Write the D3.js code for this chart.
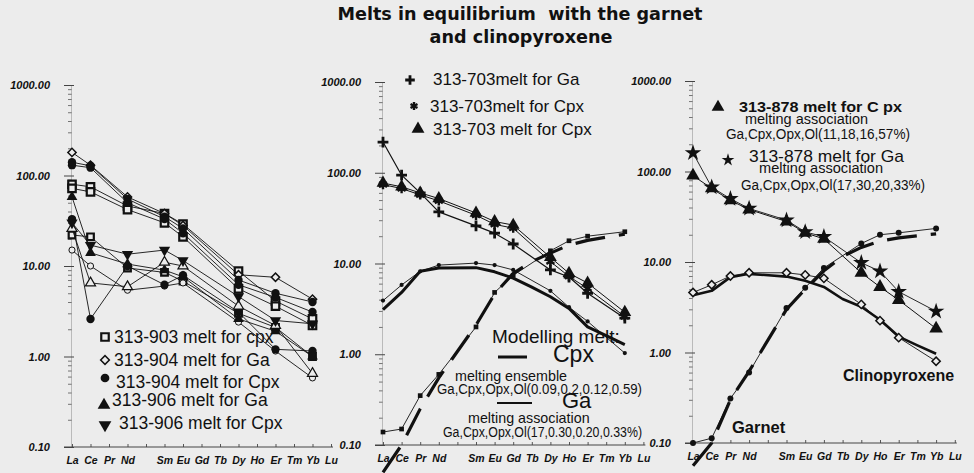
<!DOCTYPE html>
<html>
<head>
<meta charset="utf-8">
<script src="https://cdn.jsdelivr.net/npm/d3@7"></script>
<style>
  body { margin: 0; background: #ececec; }
  svg { display: block; }
</style>
</head>
<body>
<svg id="chart" width="974" height="473"></svg>
<script>
// REE order on the x axis (Pm is a gap)
const REE = ["La", "Ce", "Pr", "Nd", "Pm", "Sm", "Eu", "Gd", "Tb", "Dy", "Ho", "Er", "Tm", "Yb", "Lu"];
const axisLabels = ["La", "Ce", "Pr", "Nd", "", "Sm", "Eu", "Gd", "Tb", "Dy", "Ho", "Er", "Tm", "Yb", "Lu"];
const yTickValues = [0.1, 1, 10, 100, 1000];

// panel 1 - measured melts
const p1Elements = ["La", "Ce", "Nd", "Sm", "Eu", "Dy", "Er", "Yb"];
const melt903CpxA = [80, 75, 46, 38, 29, 8.8, 4.1, 2.6];
const melt903CpxB = [72, 66, 42, 30, 21, 5.6, 3.6, 2.2];
const melt903CpxC = [22, 21, 9.5, 8.5, 6.8, 3.0, 2.1, 1.0];
const melt904GaA = [180, 130, 58, 38, 28, 8.0, 7.5, 4.3];
const melt904GaB = [15, 10, 5.4, 6.0, 6.5, 2.4, 1.15, 0.58];
const melt904CpxA = [140, 128, 55, 35, 26, 7.0, 5.0, 4.0];
const melt904CpxB = [130, 122, 50, 33, 23, 6.2, 4.5, 3.1];
const melt904CpxC = [33, 2.6, 10, 6.2, 7.9, 3.1, 1.2, 1.15];
const melt906GaA = [58, 14, 10.5, 9, 7.6, 2.6, 1.9, 1.0];
const melt906GaB = [26, 6.5, 5.9, 11, 10, 3.6, 2.2, 0.65];
const melt906Cpx = [30, 17, 13.5, 15, 11.5, 4.6, 2.5, 2.3];

// panel 2 - 313-703 melts and modelled melts
const p2Elements = ["La", "Ce", "Pr", "Nd", "Sm", "Eu", "Gd", "Dy", "Ho", "Er", "Yb"];
const melt703Ga = [218, 94, 60, 37, 26, 21.6, 16.4, 8.5, 7.1, 4.7, 2.5];
const melt703CpxStar = [74, 67, 57, 49, 34, 27, 24.5, 10.5, 7.2, 5.3, 2.6];
const melt703CpxTri = [77, 70, 60, 52, 36, 29, 26.5, 11.7, 7.8, 6.1, 2.9];
const p2CpxCalc = [3.9, 5.8, 8.2, 9.6, 10.1, 9.6, 8.5, 5.0, 3.3, 2.3, 1.03];
const p2GaCalc = [0.139, 0.15, 0.35, 0.6, 2.0, 4.8, 7.4, 13.8, 17.8, 20, 22.4];
const modelElements = ["La", "Ce", "Pr", "Nd", "Sm", "Eu", "Gd", "Tb", "Dy", "Ho", "Er", "Tm", "Yb"];
const p2CpxModel = [3.1, 4.8, 8.2, 8.9, 9.0, 8.1, 6.9, 5.5, 4.3, 3.2, 2.0, 1.6, 1.28];
const p2GaModel = [0.05, 0.1, 0.25, 0.55, 2.1, 4.6, 7.8, 10.5, 13, 16, 18, 19.5, 21];

// panel 3 - 313-878 melts and modelled melts
const p3Elements = ["La", "Ce", "Pr", "Nd", "Sm", "Eu", "Gd", "Dy", "Ho", "Er", "Yb"];
const melt878Ga = [160, 67, 50, 39, 29, 21.5, 19, 9.8, 7.9, 4.7, 2.85];
const melt878Cpx = [90, 65, 48, 38, 28, 21, 18, 7.6, 5.3, 3.8, 1.84];
const p3CpxCalc = [4.6, 5.6, 7.0, 7.6, 7.6, 7.2, 6.6, 3.4, 2.25, 1.46, 0.8];
const p3GaCalc = [0.1, 0.113, 0.31, 0.6, 3.1, 5.2, 8.6, 16, 20, 21, 23.5];
const p3CpxModel = [4.3, 4.8, 6.8, 7.4, 6.9, 6.2, 5.3, 3.9, 3.2, 2.3, 1.5, 1.2, 0.97];
const p3GaModel = [0.056, 0.1, 0.3, 0.62, 3.0, 5.0, 8.0, 11.5, 14.5, 17, 18.5, 19.5, 20.5];

const INK = "#111";
const BG = "#ececec";
const SANS = "Liberation Sans, Arial, sans-serif";
const svg = d3.select("#chart");

const panels = [
  { x0: 72, step: 18.5, yTop: 85, yBot: 447 },
  { x0: 383, step: 18.6, yTop: 82, yBot: 445 },
  { x0: 693, step: 18.7, yTop: 81, yBot: 443 }
];

function scalesFor(p) {
  const x = d3.scaleLinear().domain([0, REE.length - 1]).range([p.x0, p.x0 + p.step * (REE.length - 1)]);
  const y = d3.scaleLog().domain([0.1, 1000]).range([p.yBot, p.yTop]);
  return { x, y };
}

function drawAxes(g, s) {
  const ax = s.x(0) - 1;
  const minor = [];
  for (let e = -1; e < 3; e++) for (let m = 2; m <= 9; m++) minor.push(m * Math.pow(10, e));

  g.append("g")
    .attr("transform", `translate(${ax},0)`)
    .call(d3.axisLeft(s.y).tickValues(minor).tickFormat("").tickSizeInner(3).tickSizeOuter(0))
    .call((a) => a.select(".domain").remove())
    .call((a) => a.selectAll(".tick line").attr("x1", 1).attr("stroke", "#555").attr("stroke-width", 0.8));

  g.append("g")
    .attr("transform", `translate(${ax},0)`)
    .call(d3.axisLeft(s.y).tickValues(yTickValues).tickFormat(d3.format(".2f")).tickSizeInner(7).tickSizeOuter(0).tickPadding(14))
    .attr("font-family", SANS)
    .attr("font-size", 11)
    .call((a) => a.select(".domain").attr("stroke", "#999").attr("stroke-width", 0.6))
    .call((a) => a.selectAll(".tick line").attr("x1", 3).attr("stroke", "#444"))
    .call((a) => a.selectAll(".tick text").attr("font-weight", "bold").attr("font-style", "italic").attr("fill", INK));

  const xg = g.append("g")
    .attr("transform", `translate(0,${s.y(0.1)})`)
    .call(d3.axisBottom(s.x).tickValues(d3.range(REE.length)).tickFormat((i) => axisLabels[i]).tickSizeInner(-3).tickSizeOuter(0).tickPadding(10))
    .attr("font-family", SANS)
    .attr("font-size", 10.5)
    .call((a) => a.select(".domain").remove())
    .call((a) => a.selectAll(".tick line").attr("stroke", "#555"))
    .call((a) => a.selectAll(".tick text").attr("font-weight", "bold").attr("font-style", "italic").attr("fill", INK));
  xg.append("line")
    .attr("x1", ax - 7).attr("x2", s.x(REE.length - 1) + 2)
    .attr("stroke", "#444").attr("stroke-width", 1);
}

function symbolPath(type, size) {
  return d3.symbol().type(type).size(size)();
}

function drawMarker(g, kind, cx, cy, size) {
  const t = `translate(${cx},${cy})`;
  switch (kind) {
    case "square":
      g.append("path").attr("d", symbolPath(d3.symbolSquare, size)).attr("transform", t)
        .attr("fill", BG).attr("stroke", INK).attr("stroke-width", 2.2);
      break;
    case "diamond":
      g.append("path").attr("d", symbolPath(d3.symbolSquare, size)).attr("transform", t + " rotate(45)")
        .attr("fill", BG).attr("stroke", INK).attr("stroke-width", 1.5);
      break;
    case "circle":
      g.append("path").attr("d", symbolPath(d3.symbolCircle, size)).attr("transform", t).attr("fill", INK);
      break;
    case "circleOpen":
      g.append("path").attr("d", symbolPath(d3.symbolCircle, size)).attr("transform", t)
        .attr("fill", BG).attr("stroke", INK).attr("stroke-width", 1);
      break;
    case "triangle":
      g.append("path").attr("d", symbolPath(d3.symbolTriangle, size)).attr("transform", t).attr("fill", INK);
      break;
    case "triangleOpen":
      g.append("path").attr("d", symbolPath(d3.symbolTriangle, size)).attr("transform", t)
        .attr("fill", BG).attr("stroke", INK).attr("stroke-width", 1.2);
      break;
    case "triangleDown":
      g.append("path").attr("d", symbolPath(d3.symbolTriangle, size)).attr("transform", t + " rotate(180)").attr("fill", INK);
      break;
    case "plus":
      g.append("path").attr("d", symbolPath(d3.symbolPlus, size)).attr("transform", t)
        .attr("fill", "none").attr("stroke", INK).attr("stroke-width", 2.8);
      break;
    case "asterisk":
      g.append("path").attr("d", symbolPath(d3.symbolAsterisk, size)).attr("transform", t)
        .attr("fill", "none").attr("stroke", INK).attr("stroke-width", 2.4);
      g.append("path").attr("d", symbolPath(d3.symbolSquare, size / 5)).attr("transform", t).attr("fill", INK);
      break;
    case "star":
      g.append("path").attr("d", symbolPath(d3.symbolStar, size)).attr("transform", t).attr("fill", INK);
      break;
    case "smallSquare":
      g.append("path").attr("d", symbolPath(d3.symbolSquare, size)).attr("transform", t).attr("fill", INK);
      break;
  }
}

function drawSeries(g, s, series) {
  const pts = series.elements.map((el, i) => ({ i: REE.indexOf(el), v: series.values[i] }));
  const line = d3.line().x((d) => s.x(d.i)).y((d) => s.y(d.v));
  g.append("path")
    .datum(pts)
    .attr("d", line)
    .attr("fill", "none")
    .attr("stroke", INK)
    .attr("stroke-width", series.width || 1)
    .attr("stroke-dasharray", series.dash || null)
    .attr("stroke-linejoin", "round");
  if (series.marker) {
    pts.forEach((d) => drawMarker(g, series.marker, s.x(d.i), s.y(d.v), series.size));
  }
}

function addText(g, str, x, y, size, opts = {}) {
  const t = g.append("text")
    .attr("x", x).attr("y", y)
    .attr("font-family", opts.family || SANS)
    .attr("font-size", size)
    .attr("font-weight", opts.bold ? "bold" : null)
    .attr("text-anchor", opts.anchor || "start")
    .attr("fill", INK)
    .text(str);
  if (opts.width) t.attr("textLength", opts.width).attr("lengthAdjust", "spacingAndGlyphs");
  return t;
}

// ---- title ----
const title = svg.append("g");
addText(title, "Melts in equilibrium\u00a0 with the garnet", 520, 20, 17.6, { bold: true, anchor: "middle", family: "DejaVu Sans, Verdana, sans-serif" });
addText(title, "and clinopyroxene", 521, 43, 17.6, { bold: true, anchor: "middle", family: "DejaVu Sans, Verdana, sans-serif" });

// ---- panel 1 ----
{
  const s = scalesFor(panels[0]);
  const g = svg.append("g");
  drawAxes(g, s);
  const lines = [
    { values: melt903CpxA, marker: "square", size: 56 },
    { values: melt903CpxB, marker: "square", size: 56 },
    { values: melt903CpxC, marker: "square", size: 44 },
    { values: melt904GaA, marker: "diamond", size: 34 },
    { values: melt904GaB, marker: "circleOpen", size: 30 },
    { values: melt904CpxA, marker: "circle", size: 55 },
    { values: melt904CpxB, marker: "circle", size: 55 },
    { values: melt904CpxC, marker: "circle", size: 55 },
    { values: melt906GaA, marker: "triangle", size: 50 },
    { values: melt906GaB, marker: "triangleOpen", size: 44 },
    { values: melt906Cpx, marker: "triangleDown", size: 55 }
  ];
  lines.forEach((l) => drawSeries(g, s, { elements: p1Elements, width: 0.9, ...l }));

  const leg = svg.append("g");
  const items = [
    { label: "313-903 melt for cpx", marker: "square", size: 56, mx: 105, my: 337, tx: 114, ty: 343 },
    { label: "313-904 melt for Ga", marker: "diamond", size: 38, mx: 105, my: 360, tx: 114, ty: 366 },
    { label: "313-904 melt for Cpx", marker: "circle", size: 60, mx: 105, my: 378, tx: 116, ty: 388 },
    { label: "313-906 melt for Ga", marker: "triangle", size: 70, mx: 104, my: 405, tx: 112, ty: 406 },
    { label: "313-906 melt for Cpx", marker: "triangleDown", size: 70, mx: 105, my: 425, tx: 119, ty: 429 }
  ];
  items.forEach((it) => {
    drawMarker(leg, it.marker, it.mx, it.my, it.size);
    addText(leg, it.label, it.tx, it.ty, 17.5);
  });
}

// ---- panel 2 ----
{
  const s = scalesFor(panels[1]);
  const g = svg.append("g");
  drawAxes(g, s);
  drawSeries(g, s, { elements: modelElements, values: p2GaModel, width: 3.2, dash: "30,14" });
  drawSeries(g, s, { elements: p2Elements, values: p2GaCalc, width: 0.9, marker: "smallSquare", size: 22 });
  drawSeries(g, s, { elements: modelElements, values: p2CpxModel, width: 3 });
  drawSeries(g, s, { elements: p2Elements, values: p2CpxCalc, width: 0.9, marker: "circle", size: 14 });
  drawSeries(g, s, { elements: p2Elements, values: melt703CpxStar, width: 1, marker: "asterisk", size: 60 });
  drawSeries(g, s, { elements: p2Elements, values: melt703CpxTri, width: 1, marker: "triangle", size: 72 });
  drawSeries(g, s, { elements: p2Elements, values: melt703Ga, width: 1.2, marker: "plus", size: 40 });

  const leg = svg.append("g");
  drawMarker(leg, "plus", 410, 80, 32);
  addText(leg, "313-703melt for Ga", 433, 85, 17);
  drawMarker(leg, "asterisk", 414, 106, 45);
  addText(leg, "313-703melt for Cpx", 430, 112, 17);
  drawMarker(leg, "triangle", 418, 129, 72);
  addText(leg, "313-703 melt for Cpx", 433, 135, 17);

  addText(leg, "Modelling melt:", 492, 343, 19);
  leg.append("line").attr("x1", 498).attr("x2", 527).attr("y1", 357).attr("y2", 357).attr("stroke", INK).attr("stroke-width", 3);
  addText(leg, "Cpx", 553, 362, 23);
  addText(leg, "melting ensemble", 455, 381, 14.3);
  addText(leg, "Ga,Cpx,Opx,Ol(0.09,0.2,0.12,0.59)", 437, 394, 14, { width: 205 });
  leg.append("line").attr("x1", 497).attr("x2", 532).attr("y1", 403).attr("y2", 403).attr("stroke", INK).attr("stroke-width", 1.8);
  addText(leg, "Ga", 562, 408, 22);
  addText(leg, "melting association", 468, 423, 14.3);
  addText(leg, "Ga,Cpx,Opx,Ol(17,0.30,0.20,0.33%)", 443, 437, 14, { width: 199 });
}

// ---- panel 3 ----
{
  const s = scalesFor(panels[2]);
  const g = svg.append("g");
  drawAxes(g, s);
  drawSeries(g, s, { elements: modelElements, values: p3GaModel, width: 3.2, dash: "30,14" });
  drawSeries(g, s, { elements: p3Elements, values: p3GaCalc, width: 0.9, marker: "circle", size: 28 });
  drawSeries(g, s, { elements: modelElements, values: p3CpxModel, width: 2.6 });
  drawSeries(g, s, { elements: p3Elements, values: p3CpxCalc, width: 0.9, marker: "diamond", size: 34 });
  drawSeries(g, s, { elements: p3Elements, values: melt878Cpx, width: 1, marker: "triangle", size: 80 });
  drawSeries(g, s, { elements: p3Elements, values: melt878Ga, width: 0.9, marker: "star", size: 85 });

  const leg = svg.append("g");
  drawMarker(leg, "triangle", 718, 107, 70);
  addText(leg, "313-878 melt for C px", 739, 112, 15, { bold: true, width: 163 });
  addText(leg, "melting association", 745, 124, 14, { width: 123 });
  addText(leg, "Ga,Cpx,Opx,Ol(11,18,16,57%)", 726, 138.5, 14, { width: 184 });
  drawMarker(leg, "star", 728, 160, 50);
  addText(leg, "313-878 melt for Ga", 749, 162, 17, { width: 155 });
  addText(leg, "melting association", 759, 173, 14, { width: 124 });
  addText(leg, "Ga,Cpx,Opx,Ol(17,30,20,33%)", 741, 190, 14, { width: 184 });

  addText(leg, "Garnet", 732, 433, 16.5, { bold: true });
  addText(leg, "Clinopyroxene", 843, 381, 16, { bold: true });
}
</script>
</body>
</html>
